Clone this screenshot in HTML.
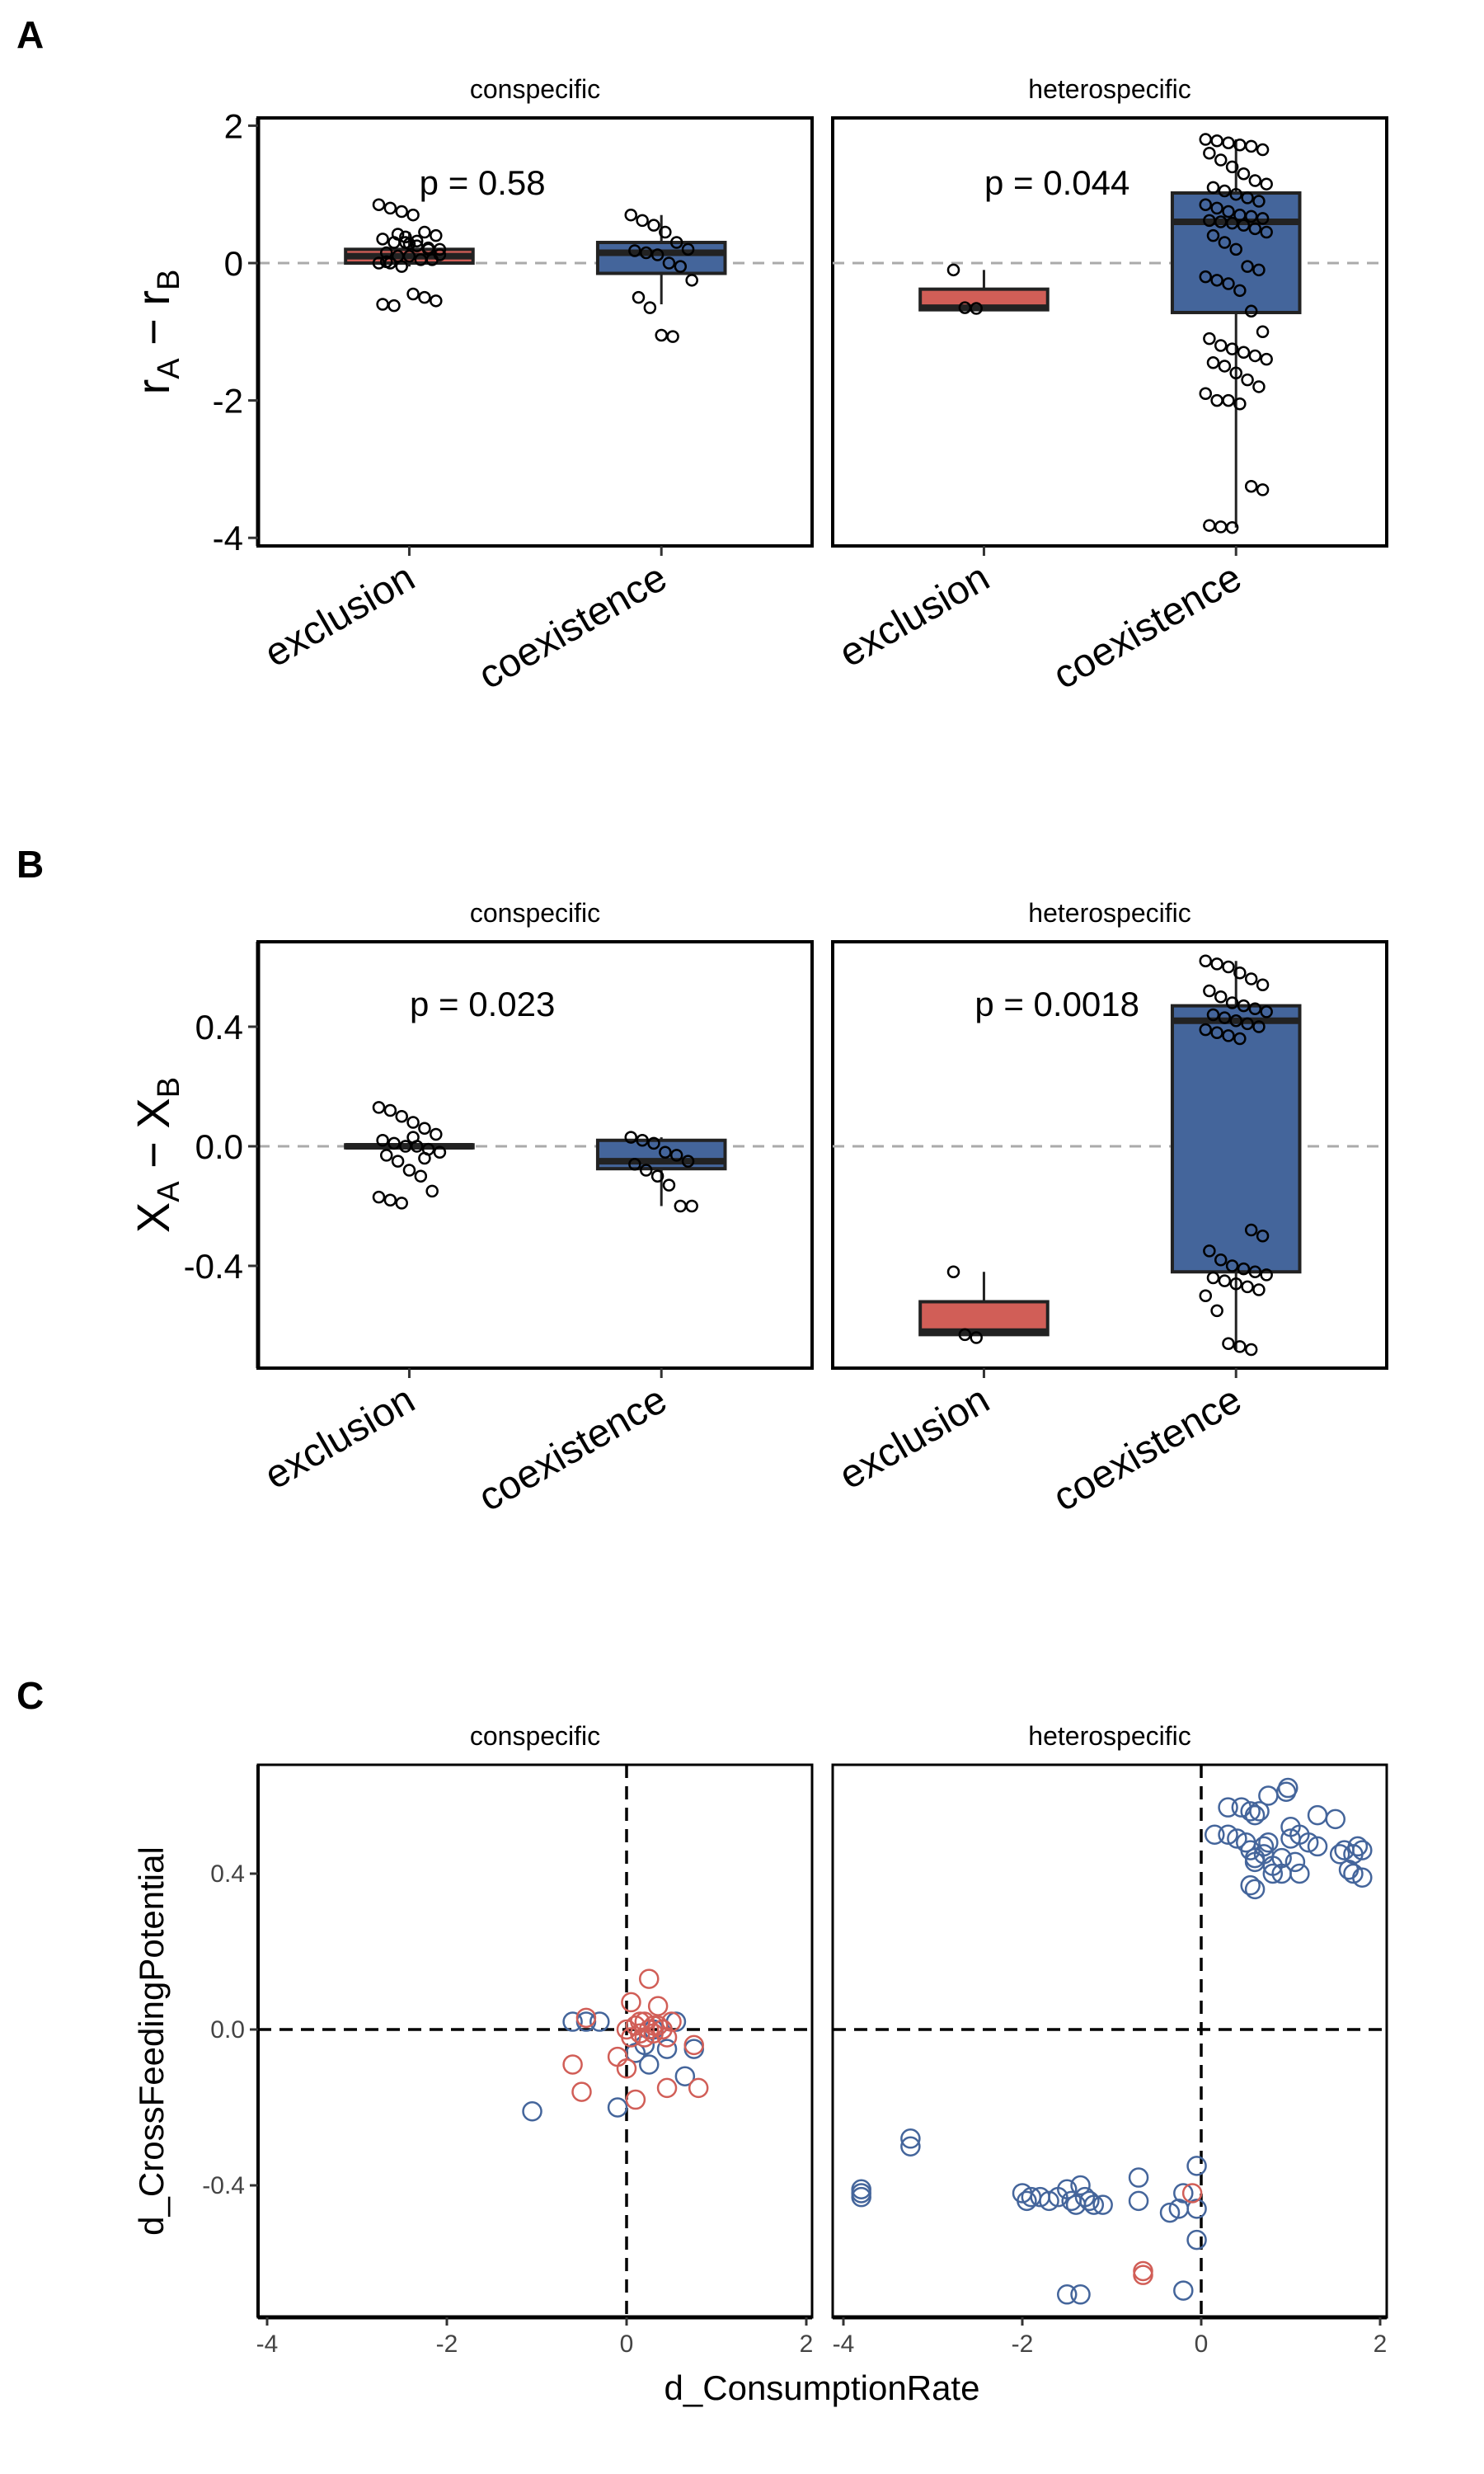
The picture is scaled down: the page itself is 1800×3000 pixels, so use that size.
<!DOCTYPE html>
<html><head><meta charset="utf-8"><style>
html,body{margin:0;padding:0;background:#fff;}
svg{display:block;font-family:"Liberation Sans",Arial,sans-serif;}
</style></head><body>
<svg id="fig" width="1800" height="3000" viewBox="0 0 1800 3000" xmlns="http://www.w3.org/2000/svg">
<text x="20" y="58" font-size="46" font-weight="bold">A</text>
<text x="20" y="1064" font-size="46" font-weight="bold">B</text>
<text x="20" y="2072" font-size="46" font-weight="bold">C</text>
</svg>
<script>
// ---------- Panel A data ----------
const facets = ["conspecific","heterospecific"];
const groups = ["exclusion","coexistence"];
const aTicks = [2,0,-2,-4];
const aPvals = ["p = 0.58","p = 0.044"];
// box stats: [whiskerLow, q1, median, q3, whiskerHigh]
const aConExcl = [-0.05,0.0,0.1,0.2,0.45];
const aConCoex = [-0.6,-0.15,0.15,0.3,0.7];
const aHetExcl = [-0.68,-0.68,-0.65,-0.38,-0.1];
const aHetCoex = [-3.85,-0.72,0.6,1.02,1.8];
const aPtsConExcl = [0.85,0.8,0.75,0.7,0.45,0.4,0.35,0.3,0.3,0.25,0.2,0.2,0.15,0.1,0.1,0.05,0.05,0.0,0.0,-0.05,-0.45,-0.5,-0.55,-0.6,-0.62,0.38,0.32,0.22,0.12,0.02,0.42,0.28];
const aPtsConCoex = [0.7,0.62,0.55,0.45,0.3,0.2,0.18,0.15,0.12,0.0,-0.05,-0.25,-0.5,-0.65,-1.05,-1.07];
const aPtsHetExcl = [-0.1,-0.65,-0.66];
const aPtsHetCoex = [1.8,1.78,1.75,1.72,1.7,1.65,1.6,1.5,1.4,1.3,1.2,1.15,1.1,1.05,1.0,0.95,0.9,0.85,0.8,0.75,0.7,0.68,0.65,0.62,0.6,0.58,0.55,0.5,0.45,0.4,0.3,0.2,-0.05,-0.1,-0.2,-0.25,-0.3,-0.4,-0.7,-1.0,-1.1,-1.2,-1.25,-1.3,-1.35,-1.4,-1.45,-1.5,-1.6,-1.7,-1.8,-1.9,-2.0,-2.0,-2.05,-3.25,-3.3,-3.82,-3.84,-3.85];
// ---------- Panel B data ----------
const bTicks = [0.4,0.0,-0.4];
const bTickLabels = ["0.4","0.0","-0.4"];
const bPvals = ["p = 0.023","p = 0.0018"];
const bConExcl = [-0.005,-0.005,0.0,0.005,0.005];
const bConCoex = [-0.2,-0.075,-0.05,0.02,0.03];
const bHetExcl = [-0.63,-0.63,-0.62,-0.52,-0.42];
const bHetCoex = [-0.68,-0.42,0.42,0.47,0.62];
const bPtsConExcl = [0.13,0.12,0.1,0.08,0.06,0.04,0.02,0.01,0.0,0.0,-0.01,-0.02,-0.03,-0.05,-0.08,-0.1,-0.15,-0.17,-0.18,-0.19,0.03,-0.04];
const bPtsConCoex = [0.03,0.02,0.01,-0.02,-0.03,-0.05,-0.06,-0.08,-0.1,-0.13,-0.2,-0.2];
const bPtsHetExcl = [-0.42,-0.63,-0.64];
const bPtsHetCoex = [0.62,0.61,0.6,0.58,0.56,0.54,0.52,0.5,0.48,0.47,0.46,0.45,0.44,0.43,0.42,0.41,0.4,0.39,0.38,0.37,0.36,-0.28,-0.3,-0.35,-0.38,-0.4,-0.41,-0.42,-0.43,-0.44,-0.45,-0.46,-0.47,-0.48,-0.5,-0.55,-0.66,-0.67,-0.68];
// ---------- Panel C data ----------
const cTicksX = [-4,-2,0,2];
const cTicksY = [0.4,0.0,-0.4];
const cConBlueX = [-1.05,-0.1,-0.6,-0.45,-0.3,0.55,0.2,0.45,0.1,0.25,0.65,0.75,0.3];
const cConBlueY = [-0.21,-0.2,0.02,0.02,0.02,0.02,-0.04,-0.05,-0.06,-0.09,-0.12,-0.05,0.0];
const cConRedX = [0.25,0.05,0.35,-0.45,0.5,0.0,0.1,0.15,0.2,0.25,0.3,0.35,0.4,0.45,0.05,0.15,0.3,-0.1,-0.6,0.0,-0.5,0.1,0.45,0.75,0.8,0.2,0.4];
const cConRedY = [0.13,0.07,0.06,0.03,0.02,0.0,0.01,-0.01,0.02,0.0,-0.01,0.01,0.0,-0.02,-0.02,0.02,0.01,-0.07,-0.09,-0.1,-0.16,-0.18,-0.15,-0.04,-0.15,-0.02,0.0];
const cHetBlueX = [0.3,0.45,0.55,0.6,0.65,0.95,0.97,0.75,1.0,1.3,1.5,1.55,0.15,0.3,0.4,0.5,0.55,0.6,0.7,0.75,0.8,0.9,1.0,1.1,1.2,1.3,1.6,1.7,1.75,1.8,0.6,0.7,0.8,0.9,1.05,1.1,1.65,1.7,1.8,0.55,0.6,-3.8,-3.8,-3.8,-3.25,-3.25,-2.0,-1.95,-1.9,-1.8,-1.7,-1.6,-1.5,-1.45,-1.4,-1.35,-1.3,-1.25,-1.2,-1.1,-0.7,-0.7,-0.35,-0.25,-0.2,-0.05,-0.05,-0.05,-1.5,-1.35,-0.2];
const cHetBlueY = [0.57,0.57,0.56,0.55,0.56,0.61,0.62,0.6,0.52,0.55,0.54,0.45,0.5,0.5,0.49,0.48,0.46,0.44,0.47,0.48,0.42,0.44,0.49,0.5,0.48,0.47,0.46,0.45,0.47,0.46,0.43,0.45,0.4,0.4,0.43,0.4,0.41,0.4,0.39,0.37,0.36,-0.42,-0.43,-0.41,-0.28,-0.3,-0.42,-0.44,-0.43,-0.43,-0.44,-0.43,-0.41,-0.44,-0.45,-0.4,-0.43,-0.44,-0.45,-0.45,-0.38,-0.44,-0.47,-0.46,-0.42,-0.46,-0.35,-0.54,-0.68,-0.68,-0.67];
const cHetRedX = [-0.1,-0.65,-0.65];
const cHetRedY = [-0.42,-0.62,-0.63];

const NS="http://www.w3.org/2000/svg";
const svg=document.getElementById('fig');
function el(tag,attrs,parent){const e=document.createElementNS(NS,tag);for(const k in attrs)e.setAttribute(k,attrs[k]);(parent||svg).appendChild(e);return e;}
const RED="#d15e57", BLUE="#44659b";
const panelX=[[313,985],[1010,1682]];
const AXX=313;

function boxPanel(opts){
  const {top,bottom,y,ticks,tickLabels,pvals,stats,pts,ylab,yPrefix,pY}=opts;
  facets.forEach((f,fi)=>{
    const [x0,x1]=panelX[fi];
    const t=el('text',{x:(x0+x1)/2,y:top-24,'font-size':32,'text-anchor':'middle'});t.textContent=f;
    
    const bg=el('rect',{x:x0,y:top,width:x1-x0,height:bottom-top,fill:'#fff',stroke:'#000','stroke-width':4});
    
    const zl=el('line',{x1:x0,x2:x1,y1:y(0),y2:y(0),stroke:'#aaa','stroke-width':3,'stroke-dasharray':'14,10'});
    
    const w=x1-x0;
    groups.forEach((g,gi)=>{
      const cx=x0+w*(gi===0?0.273:0.728);
      const s=stats[fi][gi];const col=gi===0?RED:BLUE;const bw=w*0.23;
      const wh=el('line',{x1:cx,x2:cx,y1:y(s[0]),y2:y(s[4]),stroke:'#222','stroke-width':3});
      
      const bx=el('rect',{x:cx-bw/2,y:y(s[3]),width:bw,height:Math.max(2,y(s[1])-y(s[3])),fill:col,stroke:'#222','stroke-width':4});
      
      const md=el('line',{x1:cx-bw/2,x2:cx+bw/2,y1:y(s[2]),y2:y(s[2]),stroke:'#222','stroke-width':8});
      
      pts[fi][gi].forEach((v,i)=>{
        const j=(((i*37)%17)/16-0.5)*w*0.11;
        const c=el('circle',{cx:cx+j,cy:y(v),r:6.5,fill:'none',stroke:'#000','stroke-width':2.5});
        
      });
      const tk=el('line',{x1:cx,x2:cx,y1:bottom,y2:bottom+12,stroke:'#333','stroke-width':3});
      
      const lx=cx+10, ly=bottom+48;
      const lb=el('text',{x:lx,y:ly,'font-size':48,'text-anchor':'end',transform:`rotate(-30 ${lx} ${ly})`});
      lb.textContent=g;
    });
    const p=el('text',{x:x0+w*0.405,y:pY,'font-size':42,'text-anchor':'middle'});p.textContent=pvals[fi];
    
  });
  el('line',{x1:AXX,x2:AXX,y1:top,y2:bottom,stroke:'#000','stroke-width':5});
  ticks.forEach((tv,i)=>{
    const tk=el('line',{x1:AXX-12,x2:AXX,y1:y(tv),y2:y(tv),stroke:'#333','stroke-width':3});
    
    const tl=el('text',{x:AXX-18,y:y(tv)+15,'font-size':42,'text-anchor':'end'});tl.textContent=tickLabels[i];
    
  });
  const yl=el('text',{x:0,y:0,'font-size':56,'text-anchor':'middle',transform:`translate(205 ${(top+bottom)/2}) rotate(-90)`});
  yl.innerHTML=ylab;
}
const yA=v=>319-v*83.3;
boxPanel({top:143,bottom:662,y:yA,ticks:aTicks,tickLabels:aTicks.map(String),pvals:aPvals,
  stats:[[aConExcl,aConCoex],[aHetExcl,aHetCoex]],pts:[[aPtsConExcl,aPtsConCoex],[aPtsHetExcl,aPtsHetCoex]],
  ylab:'r<tspan font-size="38" dy="12">A</tspan><tspan dy="-12"> − r</tspan><tspan font-size="38" dy="12">B</tspan>',yPrefix:'a',pY:236});
const yB=v=>1390-v*362.5;
boxPanel({top:1142,bottom:1659,y:yB,ticks:bTicks,tickLabels:bTickLabels,pvals:bPvals,
  stats:[[bConExcl,bConCoex],[bHetExcl,bHetCoex]],pts:[[bPtsConExcl,bPtsConCoex],[bPtsHetExcl,bPtsHetCoex]],
  ylab:'X<tspan font-size="38" dy="12">A</tspan><tspan dy="-12"> − X</tspan><tspan font-size="38" dy="12">B</tspan>',yPrefix:'b',pY:1232});

// ---------- Panel C ----------
const cTop=2140,cBot=2810;
const yC=v=>2461-v*472.5;
const cX=[v=>760+v*109, v=>1457+v*108.5];
const cData=[[[cConBlueX,cConBlueY,BLUE],[cConRedX,cConRedY,RED]],[[cHetBlueX,cHetBlueY,BLUE],[cHetRedX,cHetRedY,RED]]];
facets.forEach((f,fi)=>{
  const [x0,x1]=panelX[fi];const xs=cX[fi];
  const t=el('text',{x:(x0+x1)/2,y:cTop-24,'font-size':32,'text-anchor':'middle'});t.textContent=f;
  
  const bg=el('rect',{x:x0,y:cTop,width:x1-x0,height:cBot-cTop,fill:'#fff',stroke:'#000','stroke-width':3});
  
  const h=el('line',{x1:x0,x2:x1,y1:yC(0),y2:yC(0),stroke:'#000','stroke-width':3.5,'stroke-dasharray':'16,10'});
  
  const v=el('line',{x1:xs(0),x2:xs(0),y1:cTop,y2:cBot,stroke:'#000','stroke-width':3.5,'stroke-dasharray':'16,10'});
  
  cData[fi].forEach(([X,Y,col])=>{X.forEach((xv,i)=>{
    const c=el('circle',{cx:xs(xv),cy:yC(Y[i]),r:11,fill:'none',stroke:col,'stroke-width':2.5});
    
  });});
  el('line',{x1:x0,x2:x1,y1:cBot,y2:cBot,stroke:'#000','stroke-width':5});
  cTicksX.forEach(tv=>{
    const tk=el('line',{x1:xs(tv),x2:xs(tv),y1:cBot,y2:cBot+10,stroke:'#333','stroke-width':3});
    
    const tl=el('text',{x:xs(tv),y:cBot+42,'font-size':30,'text-anchor':'middle',fill:'#444'});tl.textContent=String(tv);
    
  });
});
el('line',{x1:AXX,x2:AXX,y1:cTop,y2:cBot,stroke:'#000','stroke-width':4});
cTicksY.forEach(tv=>{
  const tk=el('line',{x1:AXX-10,x2:AXX,y1:yC(tv),y2:yC(tv),stroke:'#333','stroke-width':3});
  
  const tl=el('text',{x:AXX-16,y:yC(tv)+10,'font-size':30,'text-anchor':'end',fill:'#444'});tl.textContent=tv.toFixed(1);
  
});
const cyl=el('text',{x:0,y:0,'font-size':42,'text-anchor':'middle',transform:`translate(198 ${(cTop+cBot)/2}) rotate(-90)`});
cyl.textContent='d_CrossFeedingPotential';
const cxl=el('text',{x:997,y:2910,'font-size':42,'text-anchor':'middle'});
cxl.textContent='d_ConsumptionRate';
</script>
</body></html>
